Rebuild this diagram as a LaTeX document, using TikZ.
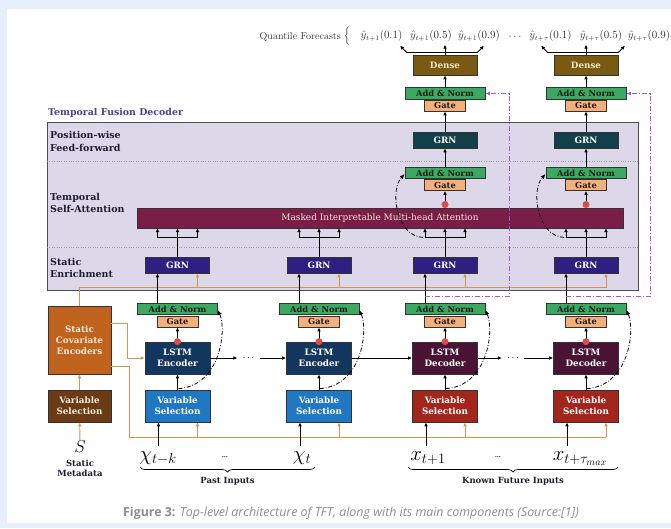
\documentclass[tikz,border=0pt]{standalone}
\usepackage{fontspec}
\usetikzlibrary{arrows.meta,calc,decorations.pathreplacing}

\newfontfamily\boxfont{DejaVu Serif}
\newfontfamily\capfont{Open Sans}

\definecolor{pagebg}{HTML}{E6EFFC}
\definecolor{decfill}{HTML}{DDD7EA}
\definecolor{decline}{HTML}{4D4D4D}
\definecolor{titlecol}{HTML}{4B3F8F}
\definecolor{rowtext}{HTML}{1E1E32}
\definecolor{boxline}{HTML}{333333}
\definecolor{densefill}{HTML}{7A5A12}
\definecolor{densetext}{HTML}{F3E6C4}
\definecolor{addfill}{HTML}{3DA862}
\definecolor{gatefill}{HTML}{F4B07A}
\definecolor{darktext}{HTML}{1A1A1A}
\definecolor{grnff}{HTML}{12404A}
\definecolor{grnenr}{HTML}{2F1F80}
\definecolor{attfill}{HTML}{7B1E47}
\definecolor{atttext}{HTML}{F2E2D2}
\definecolor{lstmenc}{HTML}{13365F}
\definecolor{lstmdec}{HTML}{4A1234}
\definecolor{vspast}{HTML}{1F78C1}
\definecolor{vsfut}{HTML}{A3261C}
\definecolor{scefill}{HTML}{C0631E}
\definecolor{svsfill}{HTML}{6B3B16}
\definecolor{creamtext}{HTML}{F6EBDA}
\definecolor{orng}{HTML}{D9934A}
\definecolor{pskip}{HTML}{A454E8}
\definecolor{dotred}{HTML}{DD4B45}
\definecolor{qtext}{HTML}{333333}
\definecolor{capgray}{HTML}{8C8C8C}
\definecolor{sepgray}{HTML}{9A95A8}

\tikzset{
  blk/.style={line width=0.9pt, -{Latex[length=4pt,width=3.6pt]}},
  orgline/.style={draw=orng, line width=0.9pt},
  orgarr/.style={orgline, -{Latex[length=4pt,width=3.6pt]}},
  curvedd/.style={line width=0.8pt, dash pattern=on 4pt off 1.8pt on 0.8pt off 1.8pt, -{Latex[length=5pt,width=4pt]}},
  resid/.style={draw=pskip, line width=0.9pt, dash pattern=on 5pt off 2pt on 1pt off 2pt, -{Latex[length=4.5pt,width=4pt]}},
  sepline/.style={draw=sepgray, line width=0.6pt, dash pattern=on 0.8pt off 1.6pt},
  blockbox/.style={draw=boxline, line width=0.7pt, inner sep=0pt, align=center, font=\boxfont\bfseries\fontsize{8.8}{11}\selectfont},
  bigbox/.style={blockbox, minimum width=65, minimum height=32, text=white},
  grnbox/.style={blockbox, minimum width=64, minimum height=16, text=white},
  addbox/.style={blockbox, fill=addfill, text=darktext, minimum width=80, minimum height=11.5, font=\boxfont\bfseries\fontsize{8.3}{10}\selectfont},
  gatebox/.style={blockbox, fill=gatefill, text=darktext, minimum width=41, minimum height=11, font=\boxfont\bfseries\fontsize{8.3}{10}\selectfont},
  densebox/.style={blockbox, fill=densefill, text=densetext, minimum width=64, minimum height=20, font=\boxfont\bfseries\fontsize{8.8}{10}\selectfont},
  rowlabel/.style={anchor=west, align=left, inner sep=0pt, text=rowtext, font=\boxfont\bfseries\fontsize{9.5}{12.5}\selectfont},
  footlabel/.style={inner sep=0pt, align=center, text=rowtext, font=\boxfont\bfseries\fontsize{8.5}{10.5}\selectfont},
  inputlab/.style={inner sep=0pt, anchor=base, font=\fontsize{20}{20}\selectfont},
  qlabel/.style={inner sep=0pt, text=qtext, font=\fontsize{10.5}{12}\selectfont},
  underbrace/.style={decorate, decoration={brace, amplitude=5pt}, line width=0.7pt}
}

\begin{document}
\begin{tikzpicture}[x=1pt,y=-1pt]
% Page
\fill[pagebg] (0,0) rectangle (671,528);
\fill[white] (7,9) rectangle (671,523);
\useasboundingbox (0,0) rectangle (671,528);

% Temporal Fusion Decoder panel
\node[anchor=west, inner sep=0pt, text=titlecol, font=\boxfont\bfseries\fontsize{9.4}{11}\selectfont] (dectitle) at (48,113) {Temporal Fusion Decoder};
\draw[draw=decline, fill=decfill, line width=0.8pt] (47,122) rectangle (638,290);
\draw[sepline] (47,161) -- (638,161);
\draw[sepline] (47,247) -- (638,247);
\node[rowlabel] (rowff) at (50,141.5) {Position-wise\\Feed-forward};
\node[rowlabel] (rowatt) at (50,203) {Temporal\\Self-Attention};
\node[rowlabel] (rowenr) at (50,268) {Static\\Enrichment};

% Attention
\node[blockbox, fill=attfill, text=atttext, minimum width=486, minimum height=20, font=\boxfont\fontsize{9}{11}\selectfont] (att) at (380,218) {Masked Interpretable Multi-head Attention};

% Static covariates
\node[blockbox, fill=scefill, text=creamtext, minimum width=63, minimum height=68] (sce) at (79.5,340) {Static\\Covariate\\Encoders};
\node[blockbox, fill=svsfill, text=creamtext, minimum width=63, minimum height=32] (svs) at (79.5,406) {Variable\\Selection};
\node[inner sep=1pt, font=\fontsize{16}{16}\selectfont] (smeta) at (80,447) {$S$};
\node[footlabel] (smetalab) at (80,468.5) {Static\\Metadata};
\draw[orgarr] (smeta) -- (svs);
\draw[orgarr] (svs) -- (sce);

% Columns: selection, LSTM, gate, enrichment
\foreach \n/\c/\lstmcol/\vscol/\kind in {1/177.5/lstmenc/vspast/Encoder,2/319/lstmenc/vspast/Encoder,3/445/lstmdec/vsfut/Decoder,4/586/lstmdec/vsfut/Decoder}{
  \node[bigbox, fill=\vscol] (vs\n) at (\c,406) {Variable\\Selection};
  \node[bigbox, fill=\lstmcol] (lstm\n) at (\c,358) {LSTM\\\kind};
  \node[gatebox] (gate\n) at (\c,321.5) {Gate};
  \node[addbox] (add\n) at (\c,309) {Add \& Norm};
  \node[grnbox, fill=grnenr] (grn\n) at (\c,265) {GRN};
  \coordinate (junc\n) at (\c,237.5);
}

% Orange static context lines
\draw[orgline] (sce.north) |- (606,287.5);
\draw[orgarr] ($(sce.east)+(0,-17)$) -| (127,358) -- (lstm1.west);
\draw[orgline] ($(sce.east)+(0,26)$) -| (129,437) -- (606,437);

% Column arrows
\foreach \n in {1,...,4}{
  \draw[blk] (vs\n) -- (lstm\n);
  \draw[blk] (lstm\n.north) -- (gate\n.south);
  \fill[dotred] (lstm\n.north) circle (3.5);
  \draw[blk] ($(add\n.north)+(-20,0)$) -- ($(grn\n.south)+(-20,0)$);
  \draw[orgarr] ($(grn\n.south)+(20,14.5)$) -- ($(grn\n.south)+(20,0)$);
  \draw[orgarr] ($(vs\n.south)+(20,15)$) -- ($(vs\n.south)+(20,0)$);
  \draw[blk] ($(vs\n.south)+(-19,24)$) -- ($(vs\n.south)+(-19,0)$);
  \draw[line width=0.9pt] (grn\n.north) -- (junc\n);
  \draw[line width=0.9pt] ($(junc\n)+(-20,0)$) -- ($(junc\n)+(20,0)$);
  \foreach \d in {-20,0,20}
    \draw[blk] ($(junc\n)+(\d,0)$) -- ($(junc\n)+(\d,-9.5)$);
  \draw[curvedd] ($(vs\n.north)+(1,-1)$) .. controls +(42,-3) and +(9,20) .. ($(add\n.east)+(0,1)$);
}

% LSTM chain
\node[inner sep=5pt] (hdots1) at (248.5,358) {$\cdots$};
\node[inner sep=5pt] (hdots2) at (513,358) {$\cdots$};
\draw[blk] (lstm1) -- (hdots1);
\draw[blk] (hdots1) -- (lstm2);
\draw[blk] (lstm2) -- (lstm3);
\draw[blk] (lstm3) -- (hdots2);
\draw[blk] (hdots2) -- (lstm4);

% Decoder outputs
\foreach \n/\c in {3/445,4/586}{
  \node[gatebox] (mgate\n) at (\c,185) {Gate};
  \node[addbox] (madd\n) at (\c,173) {Add \& Norm};
  \node[grnbox, fill=grnff] (fgrn\n) at (\c,140) {GRN};
  \node[gatebox] (tgate\n) at (\c,105.5) {Gate};
  \node[addbox] (tadd\n) at (\c,93.5) {Add \& Norm};
  \node[densebox] (dense\n) at (\c,65) {Dense};
  \coordinate (mdot\n) at (\c,204.5);
  \draw[blk] (mdot\n) -- (mgate\n.south);
  \fill[dotred] (mdot\n) circle (3.5);
  \draw[blk] (madd\n) -- (fgrn\n);
  \draw[blk] (fgrn\n) -- (tgate\n);
  \draw[blk] (tadd\n) -- (dense\n);
  \draw[curvedd] ($(junc\n)+(-22,0)$) .. controls +(-27,-1.5) and +(-15,16) .. ($(madd\n.west)+(0,1)$);
  % skip over the decoder
  \draw[resid] ($(add\n.north)+(-20,-6)$) -- ++(84,0) |- (tadd\n.east);
  % quantile arrows
  \draw[line width=0.9pt] ($(dense\n.north)+(-38,-2)$) -- ($(dense\n.north)+(32,-2)$);
  \draw[blk] (dense\n.north) -- ++(0,-10);
  \draw[blk] ($(dense\n.north)+(-38,-2)$) -- ++(-7,-7);
  \draw[blk] ($(dense\n.north)+(32,-2)$) -- ++(7,-7);
}

% Quantile forecasts
\node[anchor=east, inner sep=0pt, text=qtext, font=\fontsize{10}{12}\selectfont] (qlab) at (341,37) {Quantile Forecasts};
\node[inner sep=0pt, text=qtext] (qbrace) at (347,36) {$\Big\{$};
\foreach \n/\x/\s/\q in {31/381.5/1/0.1, 32/431/1/0.5, 33/479/1/0.9, 41/550.5/\tau/0.1, 42/601/\tau/0.5, 43/649/\tau/0.9}
  \node[qlabel] (q\n) at (\x,36) {$\hat{y}_{t+\s}(\q)$};
\node[qlabel] (qdots) at (515,37) {$\cdots$};

% Inputs
\node[inputlab] (in1) at (158,460) {$\chi_{t-k}$};
\node[inner sep=0pt] (indots1) at (225,457) {\dots};
\node[inputlab] (in2) at (302,460) {$\chi_{t}$};
\node[inputlab] (in3) at (428,460) {$x_{t+1}$};
\node[inner sep=0pt] (indots2) at (498,457) {\dots};
\node[inputlab] (in4) at (580,460) {$x_{t+\tau_{max}}$};
\draw[underbrace] (315,467) -- (140,467);
\draw[underbrace] (618,467) -- (408,467);
\node[footlabel] (pastlab) at (227.5,481) {Past Inputs};
\node[footlabel] (futlab) at (513,481) {Known Future Inputs};

% Caption
\node[inner sep=0pt, text=capgray, font=\capfont\fontsize{12.4}{14}\selectfont] (caption) at (351,513) {\textbf{Figure 3:} \textit{Top-level architecture of TFT, along with its main components (Source:[1])}};
\end{tikzpicture}
\end{document}
